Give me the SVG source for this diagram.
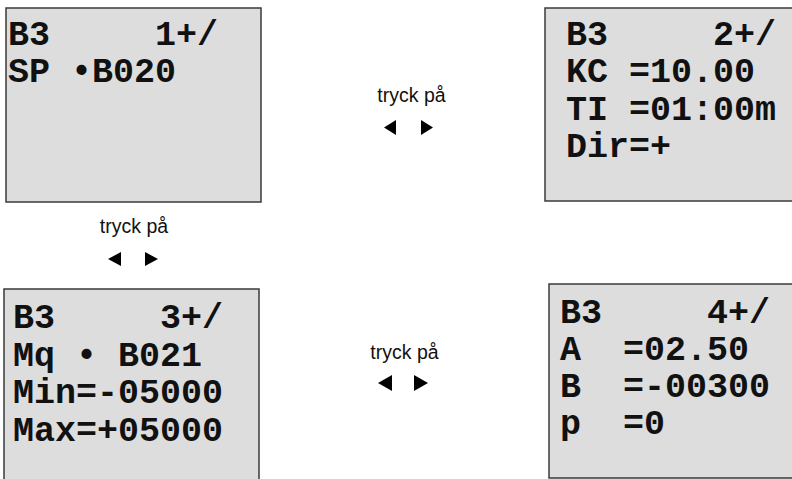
<svg xmlns="http://www.w3.org/2000/svg" width="792" height="479" viewBox="0 0 792 479">
<style>
.box{fill:#dddddd;stroke:#3a3a3a;stroke-width:1.5}
.lcd{font-family:"Liberation Mono","Courier New",monospace;font-weight:bold;font-size:35px;fill:#111;white-space:pre}
.lbl{font-family:"Liberation Sans",Arial,sans-serif;font-size:19.5px;fill:#111}
.tri{fill:#000}
</style>
<g id="screen1">
<rect class="box" x="6" y="8" width="255" height="194"/>
<text class="lcd" x="8" y="45">B3     1+/</text>
<text class="lcd" x="8" y="82">SP •B020</text>
</g>
<g id="screen2">
<rect class="box" x="545" y="8" width="260" height="193"/>
<text class="lcd" x="566" y="45">B3     2+/</text>
<text class="lcd" x="566" y="82">KC =10.00</text>
<text class="lcd" x="566" y="120">TI =01:00m</text>
<text class="lcd" x="566" y="157">Dir=+</text>
</g>
<g id="screen3">
<rect class="box" x="4" y="289" width="255" height="200"/>
<text class="lcd" x="13" y="328">B3     3+/</text>
<text class="lcd" x="13" y="366">Mq • B021</text>
<text class="lcd" x="13" y="403">Min=-05000</text>
<text class="lcd" x="13" y="441">Max=+05000</text>
</g>
<g id="screen4">
<rect class="box" x="549" y="284" width="260" height="194"/>
<text class="lcd" x="560" y="323">B3     4+/</text>
<text class="lcd" x="560" y="360">A  =02.50</text>
<text class="lcd" x="560" y="397">B  =-00300</text>
<text class="lcd" x="560" y="434">p  =0</text>
</g>
<g id="connectors">
<g id="nav1">
<text class="lbl" x="411.5" y="102" text-anchor="middle">tryck på</text>
<polygon class="tri" points="396,120 396,135 384,127.5"/>
<polygon class="tri" points="421,120 421,135 433,127.5"/>
</g>
<g id="nav2">
<text class="lbl" x="134" y="233" text-anchor="middle">tryck på</text>
<polygon class="tri" points="121,252 121,266 108,259"/>
<polygon class="tri" points="145,252 145,266 158,259"/>
</g>
<g id="nav3">
<text class="lbl" x="404.5" y="359" text-anchor="middle">tryck på</text>
<polygon class="tri" points="392,375 392,391 378,383"/>
<polygon class="tri" points="414,375 414,391 428,383"/>
</g>
</g>
</svg>
